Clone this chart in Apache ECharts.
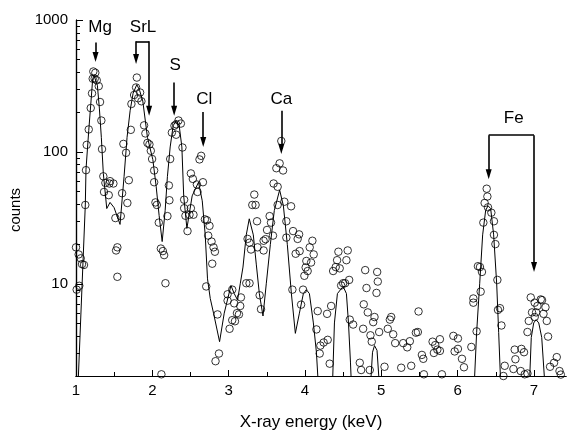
<!DOCTYPE html>
<html>
<head>
<meta charset="utf-8">
<script src="https://cdn.jsdelivr.net/npm/echarts@6/dist/echarts.min.js"></script>
<style>
html, body { margin: 0; padding: 0; background: #fff; }
#spectrumChart { width: 569px; height: 436px; }
</style>
</head>
<body>
<div id="spectrumChart"></div>
<script>
// measured spectrum: [energy keV, counts]
const measuredCounts = [
  [1.000,18.9],[1.009,9.03],[1.035,16.7],[1.043,9.66],[1.062,15.6],[1.079,14.1],[1.105,13.9],[1.122,39.6],[1.131,72.7],[1.140,113],
  [1.167,148],[1.193,215],[1.210,278],[1.219,359],[1.227,407],[1.245,359],[1.253,398],[1.272,349],[1.298,315],[1.315,239],
  [1.332,173],[1.341,105],[1.358,65.3],[1.367,49.7],[1.385,58.2],[1.429,47.0],[1.437,57.6],[1.446,60.0],[1.490,57.6],[1.516,31.5],
  [1.525,17.9],[1.542,18.9],[1.542,11.3],[1.587,32.6],[1.604,48.6],[1.621,115],[1.656,98.4],[1.673,41.0],[1.692,61.0],[1.718,147],
  [1.726,231],[1.761,270],[1.787,308],[1.797,366],[1.814,255],[1.840,282],[1.857,242],[1.892,159],[1.909,138],[1.936,117],
  [1.962,114],[1.980,102],[1.997,88.3],[2.024,72.3],[2.024,58.9],[2.041,41.4],[2.059,39.6],[2.085,29.1],[2.112,18.5],[2.119,2.06],
  [2.138,17.7],[2.155,16.5],[2.172,10.1],[2.198,32.6],[2.217,55.7],[2.224,43.0],[2.234,88.3],[2.256,140],[2.290,158],[2.312,162],
  [2.312,135],[2.343,173],[2.374,164],[2.395,108],[2.417,43.4],[2.417,37.4],[2.434,32.8],[2.461,25.1],[2.487,33.4],[2.505,68.7],
  [2.505,37.4],[2.531,62.4],[2.539,33.4],[2.584,56.6],[2.592,49.7],[2.618,87.7],[2.640,93.4],[2.663,58.9],[2.689,30.8],[2.715,30.3],
  [2.706,9.55],[2.732,23.2],[2.749,27.5],[2.776,20.9],[2.785,14.2],[2.802,18.9],[2.820,17.5],[2.828,2.59],[2.854,5.86],[2.873,2.96],
  [2.986,8.33],[2.986,7.45],[3.012,4.56],[3.047,9.03],[3.047,5.30],[3.073,7.11],[3.083,5.20],[3.109,5.99],[3.135,5.86],[3.152,6.79],
  [3.161,7.88],[3.231,10.1],[3.274,10.1],[3.248,21.9],[3.274,20.5],[3.293,18.2],[3.310,39.6],[3.336,47.5],[3.353,39.6],[3.372,29.8],
  [3.379,18.9],[3.406,8.19],[3.424,6.42],[3.458,21.2],[3.458,17.9],[3.484,21.8],[3.503,25.6],[3.537,32.6],[3.555,29.1],[3.581,23.2],
  [3.589,57.6],[3.625,75.2],[3.642,54.4],[3.642,39.6],[3.668,81.9],[3.690,121],[3.713,72.3],[3.730,41.9],[3.756,29.8],[3.756,22.4],
  [3.818,38.7],[3.835,9.03],[3.844,25.1],[3.878,16.9],[3.904,21.9],[3.923,23.7],[3.930,17.7],[3.949,6.95],[3.975,9.03],[3.992,11.5],
  [4.009,13.3],[4.018,14.9],[4.035,12.5],[4.062,18.9],[4.080,14.5],[4.097,21.2],[4.114,16.7],[4.150,4.51],[4.167,6.21],[4.193,2.96],
  [4.202,3.40],[4.245,3.59],[4.290,5.92],[4.298,3.76],[4.324,2.48],[4.343,6.79],[4.369,12.5],[4.403,13.4],[4.421,15.1],[4.438,17.5],
  [4.455,13.1],[4.474,9.71],[4.500,10.1],[4.526,10.1],[4.543,15.1],[4.560,17.9],[4.579,10.7],[4.587,5.35],[4.631,4.91],[4.718,2.52],
  [4.736,2.22],[4.762,4.56],[4.770,6.99],[4.789,12.7],[4.806,9.29],[4.823,6.07],[4.849,2.22],[4.858,4.07],[4.875,3.64],[4.894,5.12],
  [4.911,5.60],[4.937,8.53],[4.946,12.3],[4.954,10.4],[4.972,4.31],[5.042,2.35],[5.085,4.56],[5.112,5.35],[5.130,5.60],[5.156,4.14],
  [5.182,3.55],[5.261,2.31],[5.287,3.55],[5.340,3.30],[5.374,3.67],[5.392,2.39],[5.453,4.26],[5.479,4.31],[5.488,6.17],[5.532,2.89],
  [5.550,2.70],[5.558,2.06],[5.672,3.64],[5.689,2.99],[5.707,3.43],[5.734,3.17],[5.768,3.80],[5.768,3.10],[5.794,2.06],[5.944,4.03],
  [5.961,3.07],[6.004,3.85],[6.004,3.21],[6.057,2.70],[6.083,2.33],[6.180,3.32],[6.206,7.74],[6.206,7.19],[6.249,4.36],[6.266,13.6],
  [6.293,13.4],[6.302,8.72],[6.319,12.3],[6.337,29.1],[6.354,41.0],[6.381,52.6],[6.390,45.9],[6.398,38.0],[6.442,34.6],[6.476,29.8],
  [6.476,23.5],[6.495,20.0],[6.521,10.7],[6.529,6.34],[6.555,6.53],[6.574,4.83],[6.600,2.00],[6.617,2.39],[6.731,2.26],[6.748,3.17],
  [6.757,2.68],[6.827,2.18],[6.836,3.21],[6.870,3.03],[6.879,2.06],[6.915,2.09],[6.915,4.31],[6.932,5.23],[6.958,7.88],[6.975,6.07],
  [7.010,7.19],[7.010,5.60],[7.028,6.07],[7.046,6.79],[7.089,7.61],[7.106,7.52],[7.125,5.92],[7.151,6.64],[7.168,5.23],[7.185,3.98],
  [7.211,2.35],[7.264,2.52],[7.299,2.78],[7.335,2.18],[7.352,2.05]
];

// fitted curve (drops below the axis between peaks)
const fitCurve = [
  [1.026,1.67],[1.122,39.6],[1.131,73.6],[1.167,145],[1.193,227],[1.219,359],[1.236,378],[1.280,320],[1.306,215],[1.332,129],
  [1.358,68.7],[1.403,37.2],[1.446,41.4],[1.499,37.8],[1.577,28.2],[1.630,65.3],[1.669,129],[1.709,205],[1.748,278],[1.797,324],
  [1.833,293],[1.875,243],[1.936,129],[2.007,87.3],[2.050,55.0],[2.089,33.0],[2.129,20.9],[2.168,35.9],[2.198,65.3],[2.234,109],
  [2.273,158],[2.312,173],[2.352,158],[2.387,109],[2.411,46.4],[2.453,26.3],[2.522,46.4],[2.605,58.9],[2.654,42.6],[2.693,23.5],
  [2.723,10.9],[2.759,7.74],[2.802,5.99],[2.881,3.64],[2.942,5.99],[3.030,9.71],[3.073,8.43],[3.117,7.52],[3.152,10.0],[3.188,13.4],
  [3.231,23.5],[3.270,31.1],[3.323,23.5],[3.362,14.1],[3.402,8.43],[3.450,5.70],[3.493,10.0],[3.546,19.8],[3.598,35.9],[3.668,51.4],
  [3.717,39.1],[3.769,19.8],[3.822,8.43],[3.874,4.21],[3.927,5.99],[3.979,8.43],[4.018,9.03],[4.058,8.43],[4.110,5.05],[4.150,3.03],
  [4.176,1.67],[4.360,1.67],[4.386,5.05],[4.425,8.43],[4.500,9.55],[4.543,8.43],[4.570,5.05],[4.596,2.55],[4.609,1.67],[4.858,1.67],
  [4.885,3.03],[4.911,3.40],[4.944,3.13],[4.976,1.67],[6.217,1.67],[6.249,4.26],[6.289,10.0],[6.328,23.5],[6.367,35.9],[6.398,39.1],
  [6.433,37.2],[6.472,23.5],[6.512,10.0],[6.538,4.26],[6.564,1.76],[6.940,1.67],[6.965,3.92],[6.997,5.05],[7.028,5.35],[7.063,5.05],
  [7.102,3.92],[7.142,1.76]
];

const xTicks = [1, 2, 3, 4, 5, 6, 7];
const xAllTicks = [1, 1.5, 2, 2.5, 3, 3.5, 4, 4.5, 5, 5.5, 6, 6.5, 7];
const yTicks = [10, 100, 1000];
const yAllTicks = [2, 3, 4, 5, 6, 7, 8, 9, 10, 20, 30, 40, 50, 60, 70, 80, 90, 100, 200, 300, 400, 500, 600, 700, 800, 900, 1000];

// element labels [energy, counts, text]
const peakNames = [
  [1.315, 873, 'Mg'], [1.879, 873, 'SrL'], [2.299, 456, 'S'],
  [2.680, 251, 'Cl'], [3.690, 251, 'Ca'], [6.735, 179, 'Fe']
];
// arrows [energy, from counts, to counts]
const peakArrows = [
  [1.256, 676, 524], [1.787, 690, 506], [1.958, 690, 205], [2.286, 336, 205],
  [2.667, 201, 119], [3.690, 205, 105], [6.407, 134, 67.6], [7.001, 134, 13.4]
];
// bracket bars [from energy, to energy, counts]
const peakBrackets = [[1.787, 1.958, 690], [6.407, 7.001, 134]];

const font = "'Liberation Sans', Arial, sans-serif";
const spectrumChart = echarts.init(document.getElementById('spectrumChart'));

function arrowLines() {
    let lines = [];
    peakArrows.forEach((a) => {
        lines.push([{coord: [a[0], a[1]], symbol: 'none'}, {coord: [a[0], a[2]], symbol: 'triangle', symbolSize: [6, 10]}]);
    });
    peakBrackets.forEach((b) => {
        lines.push([{coord: [b[0], b[2]], symbol: 'none'}, {coord: [b[1], b[2]], symbol: 'none'}]);
    });
    return lines;
}

let option = {
    animation: false,
    grid: { left: 76, right: 3, top: 20, bottom: 52 },
    xAxis: [
        {
            type: 'value', min: 1, max: 7.42, position: 'bottom',
            name: 'X-ray energy (keV)', nameLocation: 'middle', nameGap: 38,
            nameTextStyle: { fontFamily: font, fontSize: 17, color: '#000', padding: [0, 20, 0, 0] },
            axisLine: { lineStyle: { color: '#000', width: 1.2 } },
            axisTick: { inside: true, length: 4, customValues: xAllTicks, lineStyle: { color: '#000' } },
            axisLabel: { customValues: xTicks, color: '#000', fontFamily: font, fontSize: 15, margin: 7 },
            splitLine: { show: false }
        },
        {
            type: 'value', min: 1, max: 7.42, position: 'bottom',
            axisLine: { show: true, lineStyle: { color: '#000', width: 1.2 } },
            axisTick: { show: true, inside: true, length: 6, customValues: xTicks, lineStyle: { color: '#000' } },
            axisLabel: { show: false },
            splitLine: { show: false }
        }
    ],
    yAxis: [
        {
            type: 'log', logBase: 10, min: 2, max: 1000, position: 'left',
            name: 'counts', nameLocation: 'middle', nameGap: 50,
            nameTextStyle: { fontFamily: font, fontSize: 15, color: '#000', padding: [0, 24, 0, 0] },
            axisLine: { show: true, lineStyle: { color: '#000', width: 1.2 } },
            axisTick: { inside: true, length: 4, customValues: yAllTicks, lineStyle: { color: '#000' } },
            axisLabel: { customValues: yTicks, color: '#000', fontFamily: font, fontSize: 15, margin: 8,
                         formatter: ((v) => String(v)) },
            splitLine: { show: false }
        },
        {
            type: 'log', logBase: 10, min: 2, max: 1000, position: 'left',
            axisLine: { show: true, lineStyle: { color: '#000', width: 1.2 } },
            axisTick: { show: true, inside: true, length: 7, customValues: yTicks, lineStyle: { color: '#000' } },
            axisLabel: { show: false },
            splitLine: { show: false }
        }
    ],
    series: [
        {
            name: 'fit', type: 'line', data: fitCurve, showSymbol: false, symbol: 'none',
            lineStyle: { color: '#000', width: 1 }, clip: true, z: 2,
            markLine: {
                silent: true,
                lineStyle: { color: '#000', width: 1.6, type: 'solid' },
                label: { show: false },
                data: arrowLines()
            }
        },
        {
            name: 'counts', type: 'scatter', data: measuredCounts, symbol: 'circle', symbolSize: 7.5,
            itemStyle: { color: 'rgba(255,255,255,0)', borderColor: '#000', borderWidth: 1 }, z: 3
        },
        {
            name: 'labels', type: 'scatter', data: peakNames, symbolSize: 0.1,
            itemStyle: { color: '#000', opacity: 1 },
            label: {
                show: true, position: 'inside', color: '#000', opacity: 1, fontFamily: font, fontSize: 17,
                textBorderWidth: 0,
                formatter: ((p) => p.value[2])
            }, z: 4
        }
    ]
};
spectrumChart.setOption(option);
</script>
</body>
</html>
